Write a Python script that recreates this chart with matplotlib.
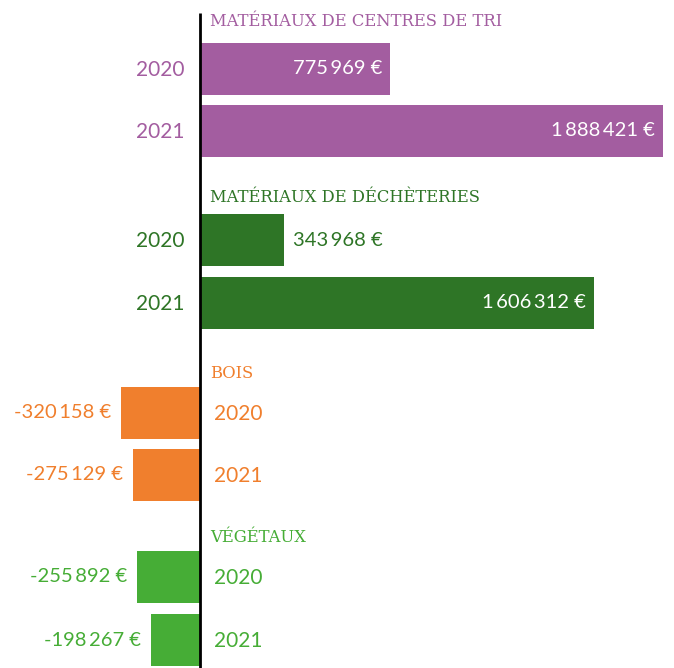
import matplotlib.pyplot as plt

# Données (en euros)
groups = ['MATÉRIAUX DE CENTRES DE TRI', 'MATÉRIAUX DE DÉCHÈTERIES', 'BOIS', 'VÉGÉTAUX']
years = ['2020', '2021']
centres_tri = [775969, 1888421]
decheteries = [343968, 1606312]
bois = [-320158, -275129]
vegetaux = [-255892, -198267]
colors = ['#A35DA0', '#2E7526', '#F07F2D', '#46AD36']

values = [centres_tri, decheteries, bois, vegetaux]

# mise en page (pixels, axe y inversé)
header_y = [21, 197, 373, 538]
bar_y = [[69, 131], [240, 303], [413, 475], [577, 640]]
px = 4078  # euros par pixel
lato = ['Lato', 'DejaVu Sans']


def fmt(v):
    s = f"{abs(v):,}".replace(',', '\u2009')
    return ('-' if v < 0 else '') + s + ' €'


fig = plt.figure(figsize=(6.74, 6.68), dpi=100)
ax = fig.add_axes([0, 0, 1, 1])
ax.set_xlim(-200 * px, 474 * px)
ax.set_ylim(668, 0)
ax.axis('off')

for i, g in enumerate(groups):
    c = colors[i]
    ax.text(10 * px, header_y[i], g, color=c, fontsize=11.8, family='DejaVu Serif',
            ha='left', va='center')
    for j, y in enumerate(years):
        v = values[i][j]
        yy = bar_y[i][j]
        ax.barh(yy, v, height=52, color=c, left=0)
        if v > 0:
            ax.text(-15 * px, yy + 1, y, color=c, fontsize=15, family=lato, ha='right', va='center')
            if v > 500000:
                ax.text(v - 8 * px, yy, fmt(v), color='white', fontsize=14.5, family=lato,
                        ha='right', va='center')
            else:
                ax.text(v + 9 * px, yy, fmt(v), color=c, fontsize=14.5, family=lato,
                        ha='left', va='center')
        else:
            ax.text(14 * px, yy + 1, y, color=c, fontsize=15, family=lato, ha='left', va='center')
            ax.text(v - 10 * px, yy, fmt(v), color=c, fontsize=14.5, family=lato,
                    ha='right', va='center')

ax.plot([0, 0], [13, 668], color='black', lw=2, solid_capstyle='butt')

fig.savefig('out.png', dpi=100)
